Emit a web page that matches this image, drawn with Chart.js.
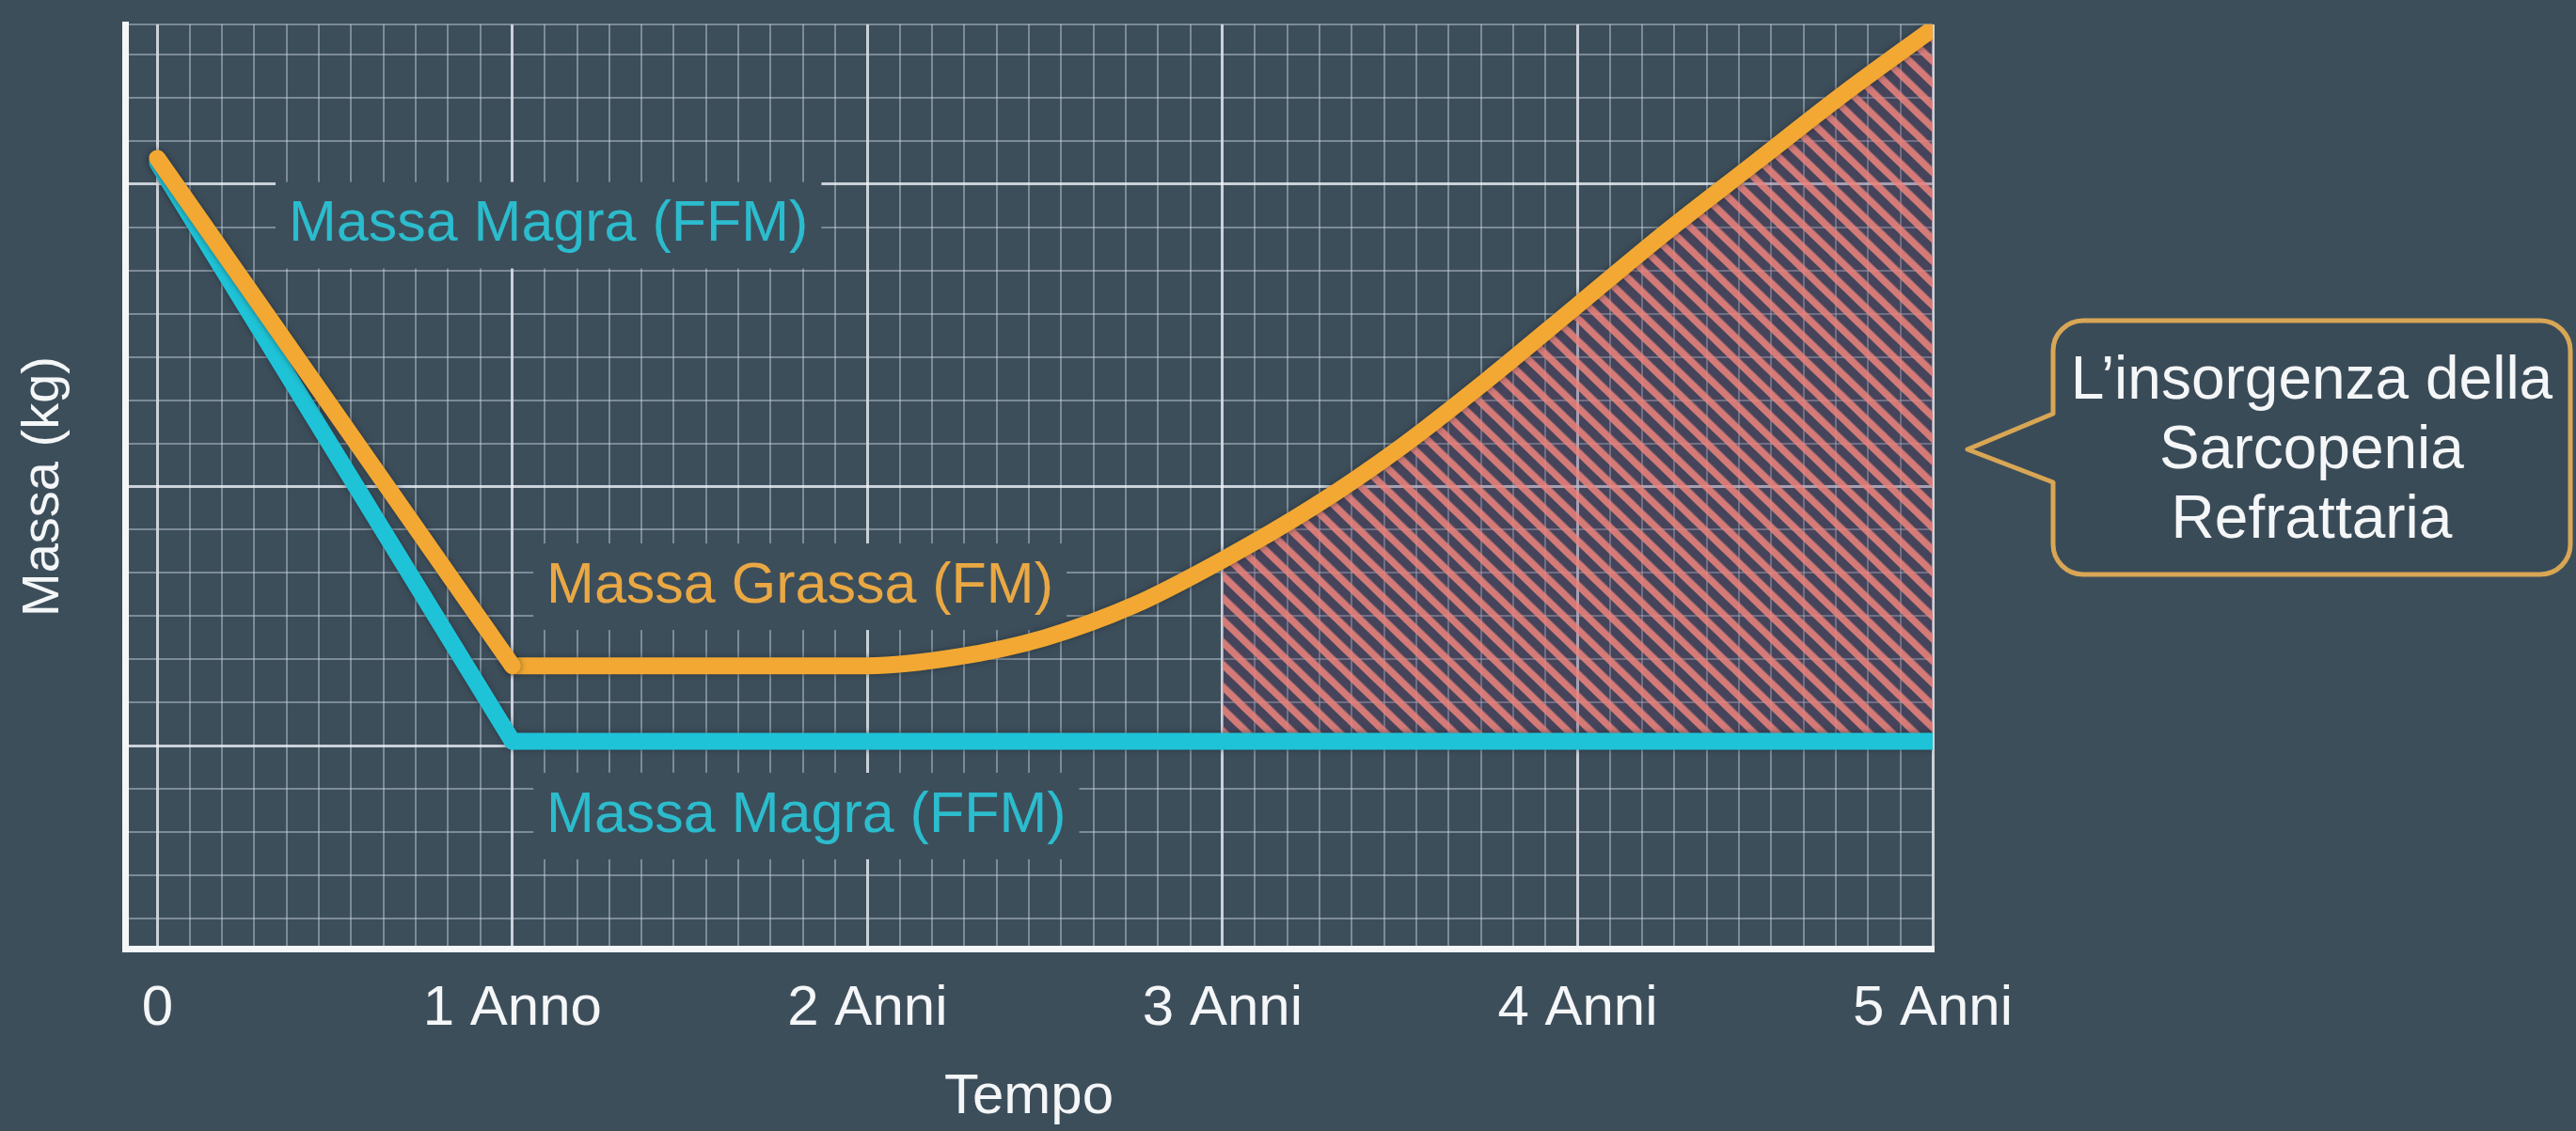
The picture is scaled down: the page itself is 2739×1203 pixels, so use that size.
<!DOCTYPE html>
<html lang="it">
<head>
<meta charset="utf-8">
<title>Massa magra e massa grassa nel tempo</title>
<script src="https://cdn.jsdelivr.net/npm/chart.js@4/dist/chart.umd.min.js"></script>
<style>
  html, body { margin: 0; padding: 0; background: #3d4e5b; }
  canvas { display: block; }
</style>
</head>
<body>
<canvas id="chart" width="2739" height="1203"></canvas>
<script>
// ---- data ----
const xTickLabels = ['0', '1 Anno', '2 Anni', '3 Anni', '4 Anni', '5 Anni'];
const ffmYears = [0, 1, 5];
const ffmMass  = [17.5, 4.1, 4.1];
const fmYears  = [0, 1, 2, 2.25, 2.5, 2.75, 3, 3.25, 3.5, 3.75, 4, 4.25, 4.5, 4.75, 5];
const fmMass   = [17.6, 5.85, 5.85, 6.05, 6.5, 7.25, 8.3, 9.5, 10.9, 12.5, 14.2, 15.9, 17.5, 19.1, 20.6];
const onsetYear = 3;
const calloutLines = ['L\u2019insorgenza della', 'Sarcopenia', 'Refrattaria'];

// ---- style ----
const BG = '#3d4e5b';
const ORANGE = '#f2a832';
const CYAN = '#1fc3d7';
const FONT = '"Liberation Sans", Arial, Helvetica, sans-serif';
const MINOR_PER_YEAR = 11;
const yMajor = [4, 10, 17];

// labels placed inside the plot (data units)
const seriesNotes = [
  { text: 'Massa Magra (FFM)',  x: 0.37,  y: 16.05, color: '#2bbccd' },
  { text: 'Massa Grassa (FM)',  x: 1.096, y: 7.68,  color: '#eaa843' },
  { text: 'Massa Magra (FFM)',  x: 1.096, y: 2.37,  color: '#2bbccd' }
];

const pts = (xs, ys) => xs.map((x, i) => ({ x, y: ys[i] }));
const fmAll = pts(fmYears, fmMass);
const fmDescent = fmAll.slice(0, 2);
const fmRise = fmAll.slice(1);
const onsetArea = fmAll.filter(p => p.x >= onsetYear);
const ffmLine = pts(ffmYears, ffmMass);
const ffmPlateau = ffmMass[ffmMass.length - 1];

// diagonal hatching for the onset region
function makeHatch(ctx) {
  const tile = document.createElement('canvas');
  tile.width = 17; tile.height = 17;
  const t = tile.getContext('2d');
  t.fillStyle = 'rgba(85,45,90,0.30)';
  t.fillRect(0, 0, 17, 17);
  t.fillStyle = 'rgba(236,132,126,0.86)';
  t.fillRect(0, 0, 7.5, 17);
  const p = ctx.createPattern(tile, 'repeat');
  p.setTransform(new DOMMatrix().rotateSelf(-46));
  return p;
}

const isWhole = v => Math.abs(v - Math.round(v)) < 1e-6;

const bgPlugin = {
  id: 'bg',
  beforeDraw(chart) {
    const c = chart.ctx;
    c.save();
    c.fillStyle = BG;
    c.fillRect(0, 0, chart.width, chart.height);
    c.restore();
  }
};

const haloPlugin = {
  id: 'halo',
  beforeDatasetDraw(chart, args) {
    if (!chart.data.datasets[args.index].halo) return;
    const c = chart.ctx;
    c.save();
    c.shadowColor = 'rgba(25,32,40,0.55)';
    c.shadowBlur = 6;
  },
  afterDatasetDraw(chart, args) {
    if (!chart.data.datasets[args.index].halo) return;
    chart.ctx.restore();
  }
};

const notesPlugin = {
  id: 'notes',
  beforeDatasetsDraw(chart) {
    const c = chart.ctx, xs = chart.scales.x, ys = chart.scales.y;
    c.save();
    c.font = '61px ' + FONT;
    c.textBaseline = 'middle';
    c.textAlign = 'left';
    seriesNotes.forEach(n => {
      const px = xs.getPixelForValue(n.x);
      const py = ys.getPixelForValue(n.y);
      const w = c.measureText(n.text).width;
      c.fillStyle = BG;
      c.fillRect(px - 14, py - 46, w + 28, 92);
      c.fillStyle = n.color;
      c.fillText(n.text, px, py);
    });
    c.restore();
  }
};

const calloutPlugin = {
  id: 'callout',
  afterDraw(chart) {
    const c = chart.ctx;
    const x = 2183, y = 341, w = 550, h = 270, r = 32;
    const tipX = 2092, tipY = 478, baseTop = 440, baseBottom = 513;
    c.save();
    c.beginPath();
    c.moveTo(x + r, y);
    c.lineTo(x + w - r, y);
    c.arcTo(x + w, y, x + w, y + r, r);
    c.lineTo(x + w, y + h - r);
    c.arcTo(x + w, y + h, x + w - r, y + h, r);
    c.lineTo(x + r, y + h);
    c.arcTo(x, y + h, x, y + h - r, r);
    c.lineTo(x, baseBottom);
    c.lineTo(tipX, tipY);
    c.lineTo(x, baseTop);
    c.lineTo(x, y + r);
    c.arcTo(x, y, x + r, y, r);
    c.closePath();
    c.fillStyle = 'rgba(52,66,78,0.25)';
    c.fill();
    c.lineWidth = 5;
    c.lineJoin = 'round';
    c.strokeStyle = '#d8a654';
    c.stroke();
    c.fillStyle = '#f4f6f7';
    c.font = '64px ' + FONT;
    c.textAlign = 'center';
    c.textBaseline = 'alphabetic';
    calloutLines.forEach((line, i) => c.fillText(line, x + w / 2, 424 + i * 74));
    c.restore();
  }
};

const ctx = document.getElementById('chart').getContext('2d');

const gridStyle = (majorTest) => ({
  drawTicks: false,
  color: g => majorTest(g.tick ? g.tick.value : NaN) ? 'rgba(238,243,247,0.80)' : 'rgba(205,218,228,0.44)',
  lineWidth: g => majorTest(g.tick ? g.tick.value : NaN) ? 3 : 2
});

new Chart(ctx, {
  type: 'line',
  data: {
    datasets: [
      {
        label: 'Insorgenza sarcopenia refrattaria',
        data: onsetArea,
        borderWidth: 0,
        pointRadius: 0,
        cubicInterpolationMode: 'monotone',
        backgroundColor: makeHatch(ctx),
        fill: { value: ffmPlateau },
        order: 3
      },
      {
        label: 'Massa Magra (FFM)',
        data: ffmLine,
        borderColor: CYAN,
        borderWidth: 18,
        borderCapStyle: 'round',
        borderJoinStyle: 'round',
        pointRadius: 0,
        tension: 0,
        fill: false,
        halo: true,
        order: 2
      },
      {
        label: 'Massa Grassa (FM)',
        data: fmDescent,
        borderColor: ORANGE,
        borderWidth: 18,
        borderCapStyle: 'round',
        borderJoinStyle: 'round',
        pointRadius: 0,
        tension: 0,
        fill: false,
        halo: true,
        order: 1
      },
      {
        label: 'Massa Grassa (FM)',
        data: fmRise,
        borderColor: ORANGE,
        borderWidth: 18,
        borderCapStyle: 'round',
        borderJoinStyle: 'round',
        pointRadius: 0,
        cubicInterpolationMode: 'monotone',
        fill: false,
        halo: true,
        order: 1
      }
    ]
  },
  options: {
    responsive: false,
    animation: false,
    devicePixelRatio: 1,
    layout: { padding: { top: 26, right: 684, bottom: 0, left: 0 } },
    plugins: {
      legend: { display: false },
      tooltip: { enabled: false }
    },
    scales: {
      x: {
        type: 'linear',
        min: -1 / MINOR_PER_YEAR,
        max: 5,
        afterBuildTicks: s => {
          s.ticks = Array.from({ length: 5 * MINOR_PER_YEAR + 1 }, (_, k) => ({ value: k / MINOR_PER_YEAR }));
        },
        afterFit: s => { s.height = 194; },
        grid: gridStyle(v => isWhole(v)),
        border: { display: true, color: '#f4f6f7', width: 7 },
        ticks: {
          autoSkip: false,
          maxRotation: 0,
          minRotation: 0,
          padding: 28,
          color: '#f4f6f7',
          font: { family: FONT, size: 60 },
          callback: v => isWhole(v) ? xTickLabels[Math.round(v)] : ''
        },
        title: {
          display: true,
          text: 'Tempo',
          color: '#f4f6f7',
          font: { family: FONT, size: 60, lineHeight: 1.2 },
          padding: { top: 0, bottom: 0 }
        }
      },
      y: {
        type: 'linear',
        min: -0.7,
        max: 20.7,
        afterBuildTicks: s => {
          const t = Array.from({ length: 21 }, (_, k) => ({ value: k }));
          t.push({ value: 20.7 });
          s.ticks = t;
        },
        afterFit: s => { s.width = 133; },
        grid: gridStyle(v => yMajor.includes(v)),
        border: { display: true, color: '#f4f6f7', width: 7 },
        ticks: { display: false },
        title: {
          display: true,
          text: 'Massa (kg)',
          color: '#f4f6f7',
          font: { family: FONT, size: 56, lineHeight: 1.2 },
          padding: { top: 13, bottom: 0 }
        }
      }
    }
  },
  plugins: [bgPlugin, haloPlugin, notesPlugin, calloutPlugin]
});
</script>
</body>
</html>
